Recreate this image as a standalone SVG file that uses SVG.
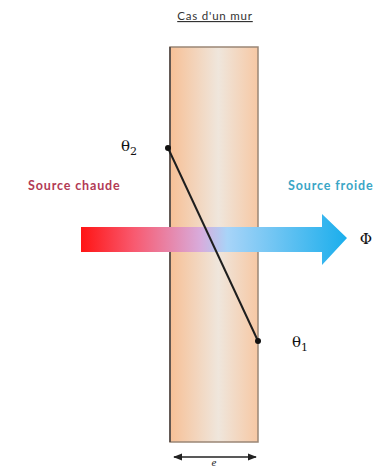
<svg xmlns="http://www.w3.org/2000/svg" width="379" height="470" viewBox="0 0 379 470">
<style>
.lbl{font-family:Lato,"Open Sans",sans-serif;font-weight:bold;font-size:12.5px;letter-spacing:0.3px}
.math{font-family:"DejaVu Serif","Liberation Serif",serif;font-size:15px;fill:#111}
.sub{font-size:11px}
</style>
<defs>
<linearGradient id="wall" x1="0" y1="0" x2="1" y2="0">
<stop offset="0" stop-color="#f7c096"/>
<stop offset="0.55" stop-color="#efe6dc"/>
<stop offset="1" stop-color="#f7c8a4"/>
</linearGradient>
<linearGradient id="flux" gradientUnits="userSpaceOnUse" x1="81" y1="0" x2="347" y2="0">
<stop offset="0" stop-color="#ff1414"/>
<stop offset="0.2" stop-color="#f85a70"/>
<stop offset="0.45" stop-color="#d8acdc"/>
<stop offset="0.55" stop-color="#a8d4f8"/>
<stop offset="1" stop-color="#1aaeec"/>
</linearGradient>
<marker id="ah" viewBox="0 0 10 10" refX="9" refY="5" markerWidth="6" markerHeight="6" orient="auto-start-reverse">
<path d="M0,1 L10,5 L0,9 z" fill="#222"/>
</marker>
</defs>
<rect width="379" height="470" fill="#fff"/>
<g id="title"><text x="215" y="20" text-anchor="middle" font-family="Lato,'Open Sans',sans-serif" font-size="11.5" letter-spacing="0.8" fill="#333" text-decoration="underline">Cas d'un mur</text></g>
<g id="wall">
<rect x="170" y="47" width="88" height="395" fill="url(#wall)" stroke="#9a8676" stroke-width="1.5"/>
<line x1="170" y1="47" x2="170" y2="442" stroke="#4a4240" stroke-width="1.5"/>
</g>
<g id="flux-arrow">
<path d="M81,227 L322,227 L322,214 L347,238 L322,265 L322,252 L81,252 z" fill="url(#flux)"/>
</g>
<g id="source-chaude"><text class="lbl" x="28" y="190" fill="#b23a55" textLength="92">Source chaude</text></g>
<g id="source-froide"><text class="lbl" x="288" y="190" fill="#3aa6c6" textLength="85">Source froide</text></g>
<g id="phi"><text class="math" x="366" y="244" text-anchor="middle" font-size="17">Φ</text></g>
<g id="connectors">
<line x1="168" y1="148" x2="258" y2="341" stroke="#1e1e1e" stroke-width="2"/>
<line x1="174" y1="457" x2="256" y2="457" stroke="#222" stroke-width="1.5" marker-start="url(#ah)" marker-end="url(#ah)"/>
</g>
<g id="theta2">
<circle cx="168" cy="148" r="3" fill="#111"/>
<text class="math" x="121" y="151">θ<tspan class="sub" dy="4">2</tspan></text>
</g>
<g id="theta1">
<circle cx="258" cy="341" r="3" fill="#111"/>
<text class="math" x="292" y="347">θ<tspan class="sub" dy="4">1</tspan></text>
</g>
<g id="e-label"><text x="214" y="466" text-anchor="middle" font-family="'Liberation Serif',serif" font-style="italic" font-size="11" fill="#222">e</text></g>
</svg>
